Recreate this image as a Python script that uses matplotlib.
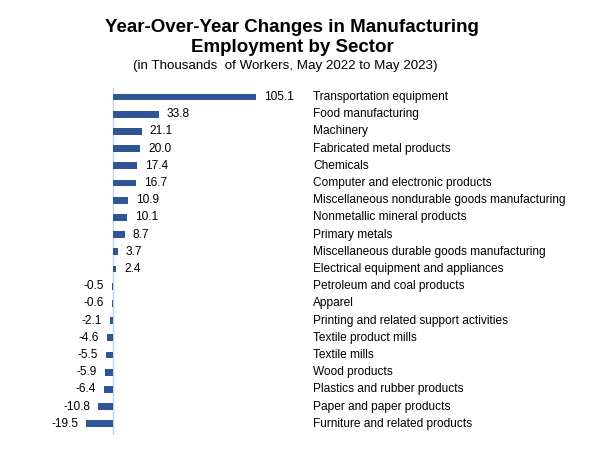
import matplotlib
matplotlib.use("Agg")
import matplotlib.pyplot as plt
from matplotlib.transforms import offset_copy, blended_transform_factory

sectors = [
    "Transportation equipment",
    "Food manufacturing",
    "Machinery",
    "Fabricated metal products",
    "Chemicals",
    "Computer and electronic products",
    "Miscellaneous nondurable goods manufacturing",
    "Nonmetallic mineral products",
    "Primary metals",
    "Miscellaneous durable goods manufacturing",
    "Electrical equipment and appliances",
    "Petroleum and coal products",
    "Apparel",
    "Printing and related support activities",
    "Textile product mills",
    "Textile mills",
    "Wood products",
    "Plastics and rubber products",
    "Paper and paper products",
    "Furniture and related products",
]
changes = [105.1, 33.8, 21.1, 20.0, 17.4, 16.7, 10.9, 10.1, 8.7, 3.7, 2.4,
           -0.5, -0.6, -2.1, -4.6, -5.5, -5.9, -6.4, -10.8, -19.5]

plt.rcParams['font.family'] = ['Liberation Sans', 'DejaVu Sans']

fig = plt.figure(figsize=(6, 4.5), dpi=100)
W, H = 600, 450
L, R, T, B = 79, 296.7, 88, 435
ax = fig.add_axes([L / W, 1 - B / H, (R - L) / W, (B - T) / H])

bar_color = "#2F5597"
ys = list(range(len(sectors)))
ax.barh(ys, changes, height=0.40, color=bar_color)
ax.set_xlim(-25, 135)
ax.set_ylim(19.65, -0.52)
ax.axvline(0, color="#C5D3EA", lw=1.0, zorder=0)
for s in ax.spines.values():
    s.set_visible(False)
ax.set_xticks([])
ax.set_yticks([])

pos_tr = offset_copy(ax.transData, fig=fig, x=8, y=0, units='dots')
neg_tr = offset_copy(ax.transData, fig=fig, x=-8, y=0, units='dots')
for y, v in zip(ys, changes):
    if v >= 0:
        ax.text(v, y, f"{v:.1f}", transform=pos_tr, ha='left', va='center',
                fontsize=8.6, color='black')
    else:
        ax.text(min(v, 0), y, f"{v:.1f}", transform=neg_tr, ha='right', va='center',
                fontsize=8.6, color='black')

lab_tr = blended_transform_factory(fig.transFigure, ax.transData)
for y, name in zip(ys, sectors):
    ax.text(313 / W, y, name, transform=lab_tr, ha='left', va='center',
            fontsize=8.6, color='black', clip_on=False)

fig.text(292 / W, 1 - 28 / H, "Year-Over-Year Changes in Manufacturing",
         ha='center', va='center', fontsize=13.5, fontweight='bold')
fig.text(292 / W, 1 - 48 / H, "Employment by Sector",
         ha='center', va='center', fontsize=13.5, fontweight='bold')
fig.text(285 / W, 1 - 66 / H, "(in Thousands  of Workers, May 2022 to May 2023)",
         ha='center', va='center', fontsize=9.6)

fig.savefig("out.png", dpi=100)
